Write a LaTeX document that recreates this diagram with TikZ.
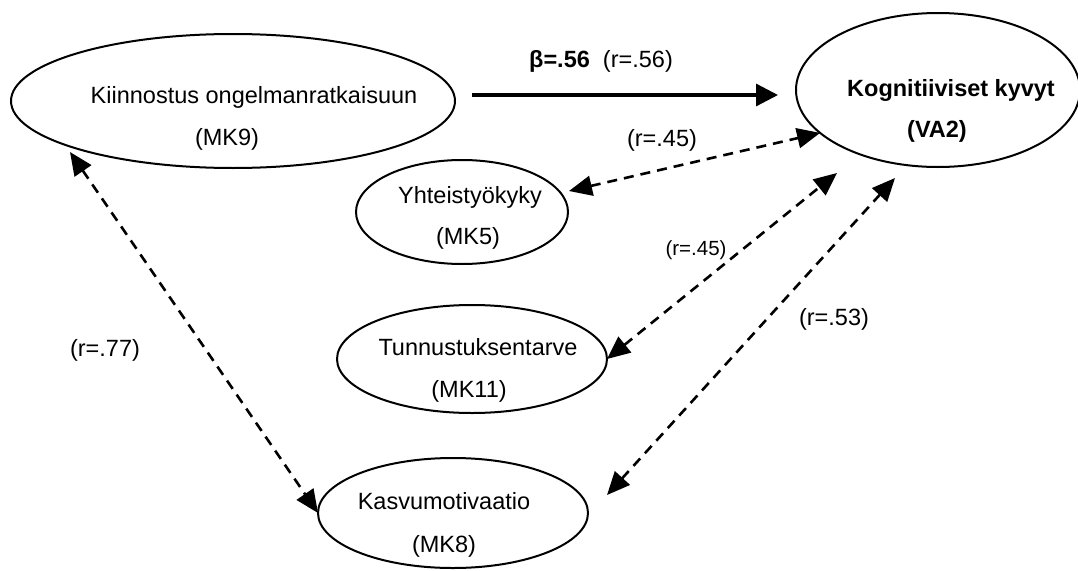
\documentclass[tikz,border=0pt]{standalone}
\usepackage{fontspec}
\setmainfont{Liberation Sans}
\usetikzlibrary{arrows.meta,shapes.geometric}
\begin{document}
\begin{tikzpicture}[x=1pt,y=-1pt,
  construct/.style={draw, ellipse, line width=2pt, inner sep=0pt, outer sep=0pt},
  lbl/.style={anchor=base, inner sep=0pt, font=\fontsize{23.5}{28}\selectfont},
  corr/.style={line width=2.6pt, dash pattern=on 10pt off 7pt,
    {Triangle[length=23pt,width=20pt]}-{Triangle[length=23pt,width=20pt]}},
  effect/.style={line width=3.3pt, -{Triangle[length=22pt,width=22pt]}}]
\useasboundingbox (0,0) rectangle (1078,570);

% constructs
\node[construct, minimum width=444pt, minimum height=134pt] (mk9) at (233,101) {};
\node[construct, minimum width=284pt, minimum height=154pt] (va2) at (938,90) {};
\node[construct, minimum width=212pt, minimum height=104pt] (yht) at (462,212) {};
\node[construct, minimum width=270pt, minimum height=108pt] (tun) at (472,359) {};
\node[construct, minimum width=270pt, minimum height=110pt] (kas) at (453,513) {};

% construct texts
\node[lbl] (mk9a) at (254,103) {Kiinnostus ongelmanratkaisuun};
\node[lbl] (mk9b) at (227,145) {(MK9)};
\node[lbl] (va2a) at (951,96) {\textbf{Kognitiiviset kyvyt}};
\node[lbl] (va2b) at (937,137) {\textbf{(VA2)}};
\node[lbl] (yhta) at (470,203) {Yhteistyökyky};
\node[lbl] (yhtb) at (468,244) {(MK5)};
\node[lbl] (tuna) at (478,355) {Tunnustuksentarve};
\node[lbl] (tunb) at (469,397) {(MK11)};
\node[lbl] (kasa) at (444,509) {Kasvumotivaatio};
\node[lbl] (kasb) at (444,552) {(MK8)};

% regression path
\draw[effect] ([shift={(17,-6)}]mk9.east) -- ([shift={(-18,5)}]va2.west);
% correlations
\draw[corr] ([shift={(1,-21)}]yht.east) -- (va2.200);
\draw[corr] (tun.east) -- ([shift={(-101,6)}]va2.south);
\draw[corr] ([shift={(19,-18)}]kas.east) -- ([shift={(-43,11)}]va2.south);
\draw[corr] ([shift={(-163,-16)}]mk9.south) -- (kas.west);

% coefficients
\node[lbl] (beta) at (601,67) {\textbf{β=.56}\ \ (r=.56)};
\node[lbl] (r1) at (662,146) {(r=.45)};
\node[lbl, font=\fontsize{20.5}{24}\selectfont] (r2) at (696,255) {(r=.45)};
\node[lbl] (r3) at (834,325) {(r=.53)};
\node[lbl] (r4) at (105,356) {(r=.77)};
\end{tikzpicture}
\end{document}
